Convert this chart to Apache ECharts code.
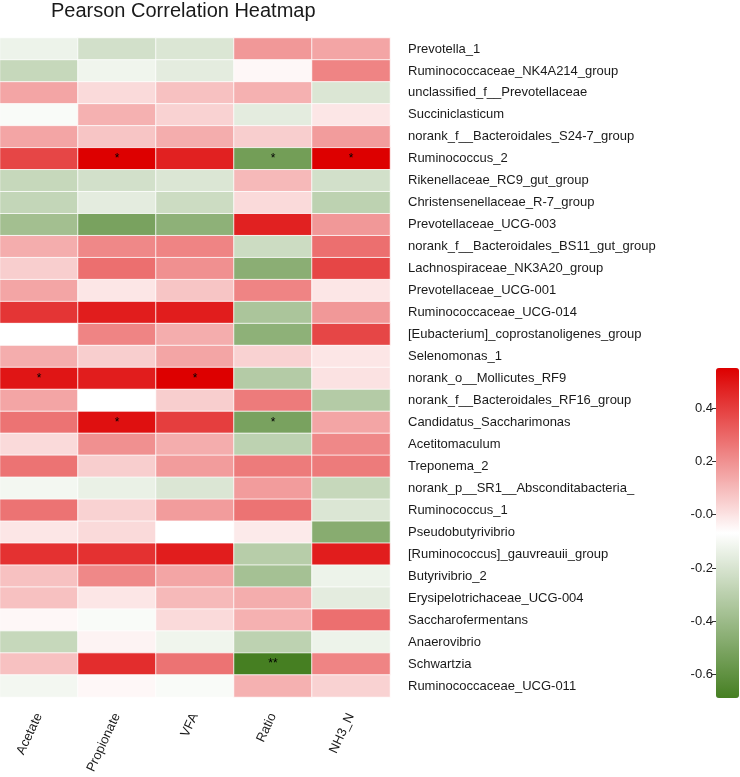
<!DOCTYPE html>
<html>
<head>
<meta charset="utf-8">
<script src="https://cdn.jsdelivr.net/npm/echarts@6/dist/echarts.min.js"></script>
<style>
html,body{margin:0;padding:0;background:#fff;}
#chart{width:740px;height:777px;}
</style>
</head>
<body>
<div id="chart"></div>
<script>
var columns = ['Acetate', 'Propionate', 'VFA', 'Ratio', 'NH3_N'];
var rows = ['Prevotella_1','Ruminococcaceae_NK4A214_group','unclassified_f__Prevotellaceae','Succiniclasticum',
  'norank_f__Bacteroidales_S24-7_group','Ruminococcus_2','Rikenellaceae_RC9_gut_group','Christensenellaceae_R-7_group',
  'Prevotellaceae_UCG-003','norank_f__Bacteroidales_BS11_gut_group','Lachnospiraceae_NK3A20_group','Prevotellaceae_UCG-001',
  'Ruminococcaceae_UCG-014','[Eubacterium]_coprostanoligenes_group','Selenomonas_1','norank_o__Mollicutes_RF9',
  'norank_f__Bacteroidales_RF16_group','Candidatus_Saccharimonas','Acetitomaculum','Treponema_2',
  'norank_p__SR1__Absconditabacteria_','Ruminococcus_1','Pseudobutyrivibrio','[Ruminococcus]_gauvreauii_group',
  'Butyrivibrio_2','Erysipelotrichaceae_UCG-004','Saccharofermentans','Anaerovibrio','Schwartzia','Ruminococcaceae_UCG-011'];

var acetate    = [-0.13,-0.26,0.15,-0.09,0.15,0.38,-0.26,-0.27,-0.38,0.13,0.05,0.15,0.42,-0.07,0.13,0.50,0.15,0.27,0.02,0.27,-0.11,0.27,-0.01,0.43,0.08,0.08,-0.05,-0.26,0.08,-0.11];
var propionate = [-0.22,-0.12,0.02,0.12,0.07,0.55,-0.22,-0.16,-0.52,0.22,0.28,-0.01,0.48,0.23,0.05,0.48,-0.07,0.51,0.20,0.05,-0.14,0.04,0.02,0.43,0.22,-0.01,-0.09,-0.04,0.44,-0.05];
var vfa        = [-0.19,-0.16,0.08,0.04,0.13,0.47,-0.19,-0.24,-0.45,0.23,0.20,0.07,0.48,0.13,0.15,0.55,0.05,0.40,0.13,0.17,-0.19,0.17,-0.07,0.48,0.15,0.10,0.02,-0.12,0.27,-0.09];
var ratio      = [0.18,-0.05,0.12,-0.16,0.05,-0.54,0.10,0.02,0.47,-0.24,-0.46,0.23,-0.35,-0.45,0.04,-0.32,0.25,-0.52,-0.29,0.25,0.17,0.27,-0.02,-0.31,-0.37,0.13,0.12,-0.29,-0.69,0.12];
var nh3n       = [0.15,0.23,-0.19,-0.01,0.17,0.55,-0.22,-0.29,0.18,0.28,0.38,-0.01,0.18,0.38,-0.01,0.00,-0.32,0.15,0.22,0.25,-0.26,-0.19,-0.47,0.48,-0.13,-0.16,0.28,-0.13,0.23,0.04];

// significance marks: [row, column, mark]
var sigMarks = [
  ['Ruminococcus_2','Propionate','*'], ['Ruminococcus_2','Ratio','*'], ['Ruminococcus_2','NH3_N','*'],
  ['norank_o__Mollicutes_RF9','Acetate','*'], ['norank_o__Mollicutes_RF9','VFA','*'],
  ['Candidatus_Saccharimonas','Propionate','*'], ['Candidatus_Saccharimonas','Ratio','*'],
  ['Schwartzia','Ratio','**']
];
var colorbarTicks = [-0.6, -0.4, -0.2, 0.0, 0.2, 0.4];
var valueMin = -0.69, valueMax = 0.55;

var colValues = [acetate, propionate, vfa, ratio, nh3n];
var data = [];
for (var c = 0; c < columns.length; c++) {
  for (var r = 0; r < rows.length; r++) {
    var mark = '';
    for (var k = 0; k < sigMarks.length; k++) {
      if (sigMarks[k][0] === rows[r] && sigMarks[k][1] === columns[c]) mark = sigMarks[k][2];
    }
    data.push([c, r, colValues[c][r], mark]);
  }
}

var chart = echarts.init(document.getElementById('chart'));
var FONT = '"Liberation Sans", Arial, sans-serif';
chart.setOption({
  animation: false,
  backgroundColor: '#fff',
  textStyle: { fontFamily: FONT },
  title: {
    text: 'Pearson Correlation Heatmap',
    left: 51, top: 1, padding: 0,
    textStyle: { fontSize: 20, fontWeight: 'normal', color: '#1a1a1a', fontFamily: FONT }
  },
  grid: [
    { left: 0, top: 38, width: 390, height: 659 },
    { left: 716, top: 408, width: 23, height: 266.7 }
  ],
  xAxis: [
    {
      type: 'category', data: columns, gridIndex: 0, position: 'bottom',
      axisLine: { show: false }, axisTick: { show: false }, splitLine: { show: false },
      axisLabel: { rotate: 65, margin: 17, fontSize: 13, color: '#1a1a1a', fontFamily: FONT }
    },
    { type: 'value', gridIndex: 1, show: false, min: 0, max: 1 }
  ],
  yAxis: [
    {
      type: 'category', data: rows, gridIndex: 0, inverse: true, position: 'right',
      axisLine: { show: false }, axisTick: { show: false }, splitLine: { show: false },
      axisLabel: { margin: 18, fontSize: 13, color: '#1a1a1a', fontFamily: FONT }
    },
    {
      type: 'value', gridIndex: 1, position: 'left', min: -0.6, max: 0.4, interval: 0.2,
      axisLine: { show: false }, splitLine: { show: false },
      axisTick: { show: true, length: 4, lineStyle: { color: '#333' } },
      axisLabel: {
        margin: 3, fontSize: 13, color: '#1a1a1a', fontFamily: FONT,
        formatter: function (v) { return Math.abs(v) < 1e-9 ? '-0.0' : v.toFixed(1); }
      }
    }
  ],
  visualMap: {
    type: 'continuous', seriesIndex: 0, dimension: 2, min: valueMin, max: valueMax,
    calculable: false, orient: 'vertical', left: 716, top: 368, padding: 0,
    itemWidth: 23, itemHeight: 330, text: null, hoverLink: false,
    inRange: { color: ['#467f22', '#ffffff', '#dd0000'] }
  },
  series: [{
    type: 'heatmap', xAxisIndex: 0, yAxisIndex: 0, data: data,
    itemStyle: { borderColor: 'rgba(255,255,255,0.8)', borderWidth: 1 },
    label: {
      show: true, color: '#000', fontSize: 12, fontFamily: FONT,
      formatter: function (p) { return p.data[3]; }
    },
    emphasis: { disabled: true }
  }]
});
</script>
</body>
</html>
